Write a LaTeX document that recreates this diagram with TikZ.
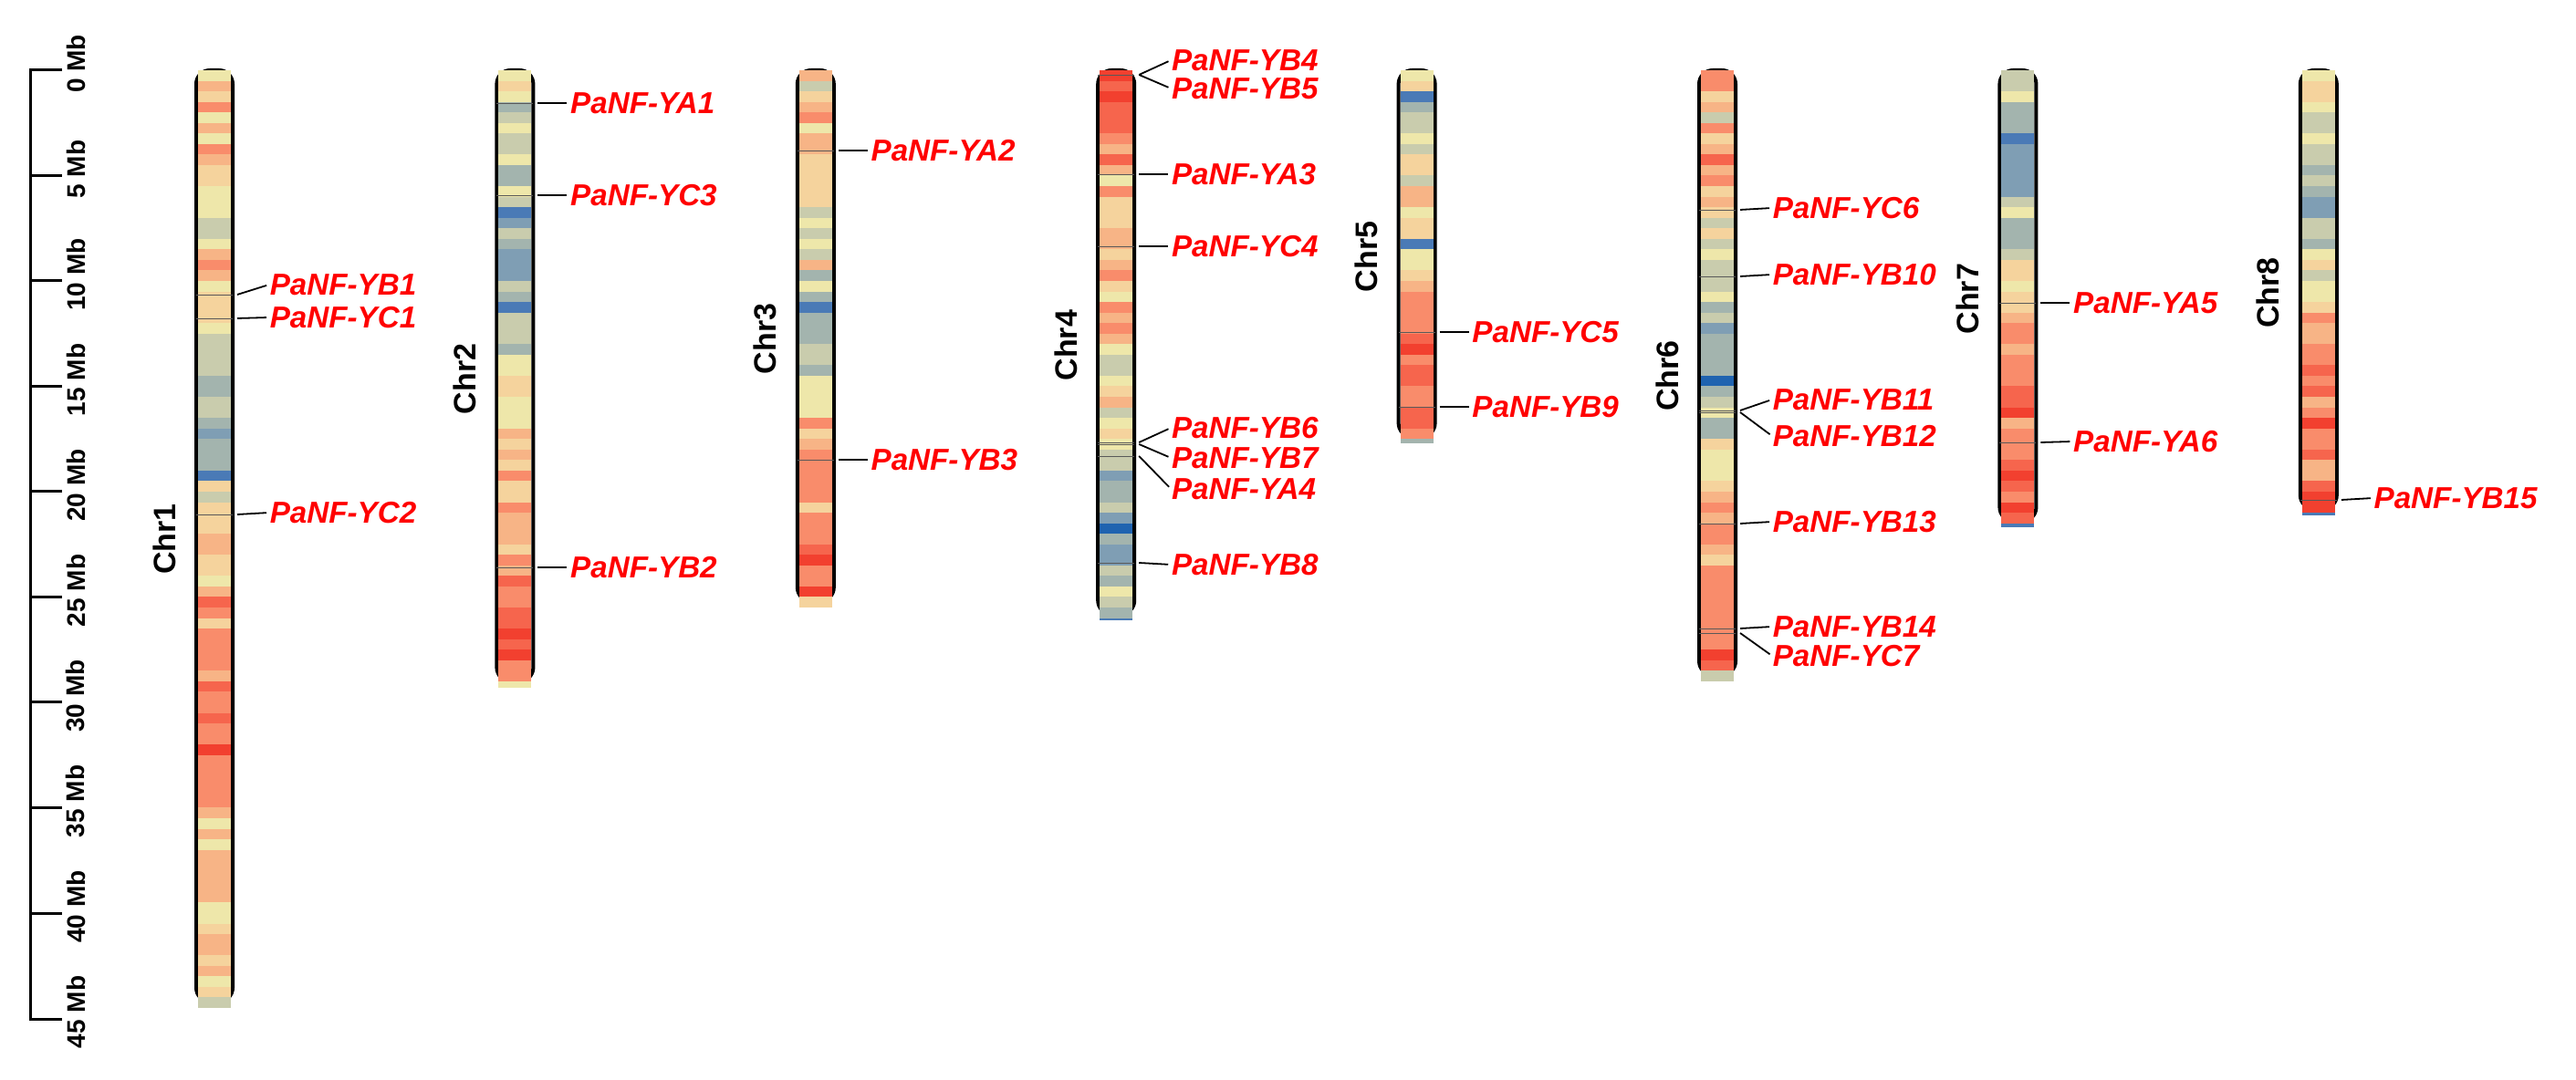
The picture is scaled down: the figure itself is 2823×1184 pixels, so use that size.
\documentclass[tikz,border=0pt]{standalone}
\usepackage{fontspec}
\setmainfont{Liberation Sans}
\usepackage{xcolor}
\usepackage{tikz}
\definecolor{hm0}{HTML}{1F63B0}
\definecolor{hm1}{HTML}{4A7AB6}
\definecolor{hm2}{HTML}{7F9EB4}
\definecolor{hm3}{HTML}{A3B4AE}
\definecolor{hm4}{HTML}{C9CCAD}
\definecolor{hm5}{HTML}{EEE7AA}
\definecolor{hm6}{HTML}{F5D39D}
\definecolor{hm7}{HTML}{F7B486}
\definecolor{hm8}{HTML}{F98C6B}
\definecolor{hm9}{HTML}{F6654D}
\definecolor{hm10}{HTML}{F2402F}
\definecolor{genered}{HTML}{FF0000}
\tikzset{chrom/.style={draw=black,line width=1pt,rounded corners=3.75pt},
    chrlabel/.style={rotate=90,inner sep=0pt,font=\fontsize{8.5}{10}\selectfont\bfseries},
    genelabel/.style={anchor=west,inner sep=0pt,text=genered,
        font=\fontsize{8.3}{10}\selectfont\bfseries\itshape},
    geneline/.style={draw=black!65,line width=0.22pt},
    connector/.style={draw=black,line width=0.45pt,shorten >=0.75pt},
    scaleline/.style={draw=black,line width=0.75pt},
    mblabel/.style={rotate=90,inner sep=0pt,font=\fontsize{7}{8.4}\selectfont\bfseries}}
% #1 name, #2 centre x, #3 length in Mb, #4 heat levels per 0.5 Mb
\newcommand{\drawchr}[4]{%
    \draw[chrom] (#2-20,77) rectangle (#2+20,{77+23.1*#3-7});
    \foreach \v [count=\k from 0] in {#4} {
        \fill[hm\v] (#2-18,{77+11.55*\k}) rectangle (#2+18,{77+23.1*min(0.5*\k+0.5,#3)});
    }
    \node[chrlabel] (#1) at (#2-55,{77+11.55*#3}) {#1};
}

\begin{document}
\begin{tikzpicture}[x=0.25pt,y=-0.25pt]
\useasboundingbox (0,0) rectangle (2823,1184);
% scale bar
\draw[scaleline] (68,77) -- (33,77) -- (33,1117) -- (68,1117);
\foreach \i in {1,...,8} \draw[scaleline] (33,{77+115.5*\i}) -- (68,{77+115.5*\i});
\foreach \i in {0,...,9} {
    \pgfmathtruncatemacro{\mb}{5*\i}
    \node[mblabel] (mb\i) at (83,{70+115.5*\i}) {\mb{} Mb};
}
% chromosomes
\drawchr{Chr1}{235}{44.5}{5,7,6,8,5,7,5,8,7,6,
    6,5,5,5,4,4,5,7,8,7, 5,6,6,6,5,4,4,4,4,3, 3,4,4,3,2,3,3,3,1,6,
    4,6,6,6,7,7,6,6,5,7, 9,8,6,8,8,8,8,7,9,8, 8,9,8,8,10,8,8,8,8,8,
    7,5,7,5,7,7,7,7,7,5, 5,6,7,7,6,7,5,6,4}
\drawchr{Chr2}{564.4}{29.3}{5,6,5,3,4,5,4,4,5,3,
    3,5,4,1,2,4,3,2,2,2, 4,3,1,4,4,4,3,5,5,6, 6,5,5,5,7,6,7,6,8,6,
    6,8,7,7,7,6,8,7,9,8, 8,9,9,10,9,10,8,8,5}
\drawchr{Chr3}{893.8}{25.5}{7,4,6,7,8,5,7,7,6,6,
    6,6,6,4,5,4,5,4,7,3, 5,3,1,3,3,3,4,4,3,5, 5,5,5,8,6,7,8,8,8,8,
    8,6,8,8,8,9,10,8,8,10, 6}
\drawchr{Chr4}{1223.2}{26.12}{10,9,10,9,9,9,8,7,9,7,
    5,8,6,6,6,7,7,6,7,8, 6,5,8,7,8,7,5,4,4,5, 6,7,4,5,6,5,4,4,2,3,
    3,4,2,0,3,2,2,4,3,5, 4,3,1}
\drawchr{Chr5}{1552.6}{17.7}{5,6,1,3,4,4,5,4,6,6,
    4,7,7,5,6,6,1,5,5,6, 7,8,8,8,8,9,10,8,9,9, 8,8,9,9,8,3}
\drawchr{Chr6}{1882}{29.0}{8,8,6,7,4,8,6,7,9,7,
    8,6,7,6,4,6,4,5,4,4, 4,5,3,4,2,3,3,3,3,0, 3,4,5,3,3,6,5,5,5,6,
    7,8,7,8,8,7,6,8,8,8, 8,8,8,8,8,10,9,4}
\drawchr{Chr7}{2211.4}{21.7}{4,4,5,3,3,3,1,2,2,2,
    2,2,4,5,3,3,3,4,6,6, 5,6,6,7,8,8,7,8,8,8, 9,9,10,7,8,8,8,9,10,9,
    8,10,9,1}
\drawchr{Chr8}{2540.8}{21.12}{5,6,6,5,4,4,5,4,4,3,
    4,3,2,2,4,4,3,5,6,4, 5,5,6,8,7,7,8,8,9,8, 9,7,8,10,8,8,9,7,7,9,
    10,10,1}
% genes: centre x / name / position / label height
\foreach \c/\g/\gy/\ly in {235/YB1/323/312, 235/YC1/349/348, 235/YC2/564/562,
    564.4/YA1/113/113, 564.4/YC3/214/214, 564.4/YB2/622/622,
    893.8/YA2/165/165, 893.8/YB3/504/504,
    1223.2/YB4/82/66, 1223.2/YB5/82/97, 1223.2/YA3/191/191, 1223.2/YC4/270/270,
    1223.2/YB6/485/469, 1223.2/YB7/487/502, 1223.2/YA4/500/536, 1223.2/YB8/617/619,
    1552.6/YC5/364/364, 1552.6/YB9/446/446,
    1882/YC6/230/228, 1882/YB10/303/301, 1882/YB11/450/438, 1882/YB12/452/478,
    1882/YB13/574/572, 1882/YB14/689/687, 1882/YC7/694/719,
    2211.4/YA5/332/332, 2211.4/YA6/485/484,
    2540.8/YB15/548/546} {
    \draw[geneline] (\c-20,\gy) -- (\c+20,\gy);
    \coordinate (g\g) at (\c+25,\gy);
    \node[genelabel] (\g) at (\c+60,\ly) {PaNF-\g};
    \draw[connector] (g\g) -- (\g.west);
}
\end{tikzpicture}
\end{document}
